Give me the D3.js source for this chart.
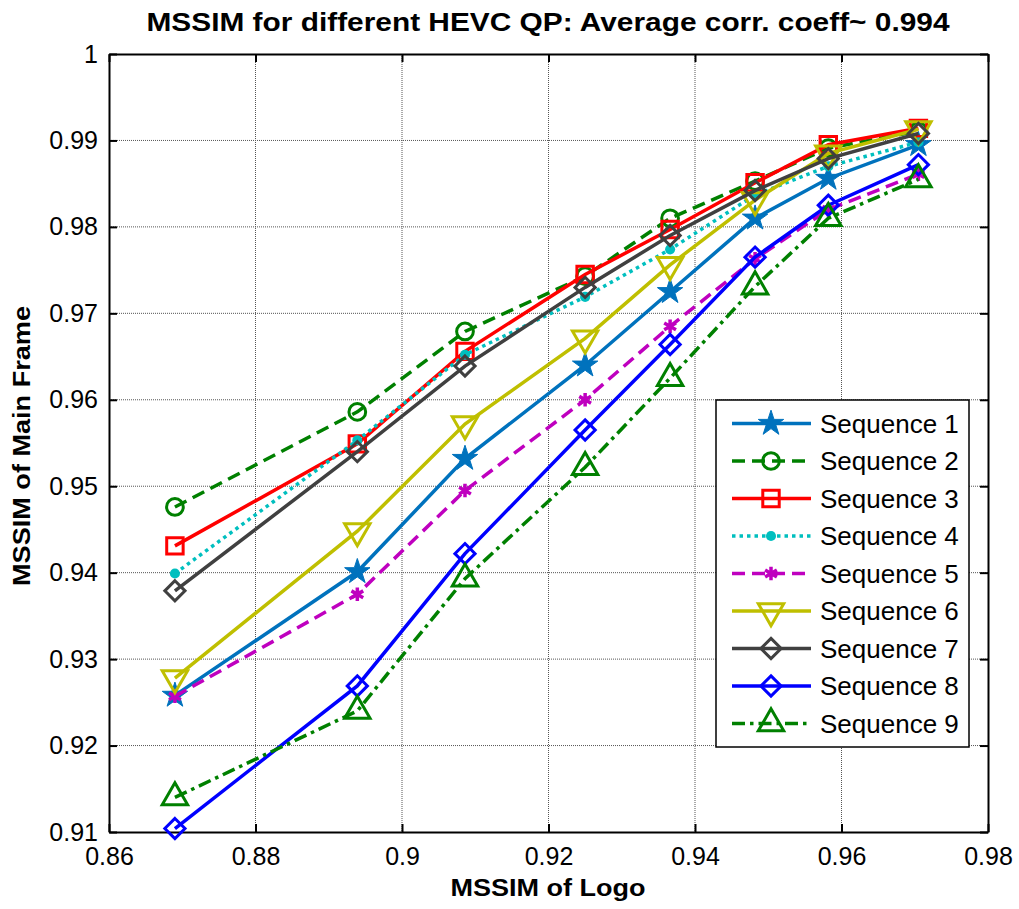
<!DOCTYPE html>
<html>
<head>
<meta charset="utf-8">
<script src="https://cdn.jsdelivr.net/npm/d3@7"></script>
<style>
  body { margin: 0; background: #fff; }
  text { font-family: "Liberation Sans", Arial, sans-serif; }
</style>
</head>
<body>
<div id="chart"></div>
<script>
// x positions (MSSIM of logo), shared by every sequence
const logoX = [0.869, 0.8939, 0.9086, 0.925, 0.9366, 0.9482, 0.9582, 0.9705];

// MSSIM of main frame, one array per sequence
const seq1 = [0.9258, 0.9401, 0.9532, 0.9640, 0.9725, 0.9810, 0.9856, 0.9895];
const seq2 = [0.9476, 0.9586, 0.9679, 0.9743, 0.9810, 0.9853, 0.9891, 0.9911];
const seq3 = [0.9431, 0.9549, 0.9656, 0.9745, 0.9797, 0.9851, 0.9895, 0.9914];
const seq4 = [0.9399, 0.9553, 0.9652, 0.9719, 0.9774, 0.9837, 0.9870, 0.9898];
const seq5 = [0.9257, 0.9375, 0.9495, 0.9600, 0.9685, 0.9763, 0.9820, 0.9861];
const seq6 = [0.9278, 0.9448, 0.9572, 0.9671, 0.9756, 0.9831, 0.9885, 0.9913];
const seq7 = [0.9379, 0.9540, 0.9639, 0.9730, 0.9790, 0.9842, 0.9879, 0.9908];
const seq8 = [0.9104, 0.9269, 0.9422, 0.9565, 0.9664, 0.9765, 0.9825, 0.9872];
const seq9 = [0.9140, 0.9240, 0.9393, 0.9522, 0.9625, 0.9731, 0.9810, 0.9855];

const seriesNames = ["Sequence 1", "Sequence 2", "Sequence 3", "Sequence 4", "Sequence 5",
                     "Sequence 6", "Sequence 7", "Sequence 8", "Sequence 9"];
const seriesValues = [seq1, seq2, seq3, seq4, seq5, seq6, seq7, seq8, seq9];

const xTicks = [0.86, 0.88, 0.9, 0.92, 0.94, 0.96, 0.98];
const yTicks = [0.91, 0.92, 0.93, 0.94, 0.95, 0.96, 0.97, 0.98, 0.99, 1];

// line / marker styles
const styles = [
  {color: "#0072BD", dash: null,        marker: "star"},
  {color: "#008000", dash: "13 7",      marker: "circle"},
  {color: "#FF0000", dash: null,        marker: "square"},
  {color: "#00BFBF", dash: "3.5 4",     marker: "dot"},
  {color: "#BF00BF", dash: "13 7",      marker: "asterisk"},
  {color: "#BFBF00", dash: null,        marker: "triangleDown"},
  {color: "#404040", dash: null,        marker: "diamond"},
  {color: "#0000FF", dash: null,        marker: "diamond"},
  {color: "#008000", dash: "13 5 3.5 5", marker: "triangleUp"}
];

const width = 1019, height = 909;
const margin = {top: 54, right: 31, bottom: 77, left: 109};

const svg = d3.select("#chart")
  .append("svg")
  .attr("width", width)
  .attr("height", height);

const xScale = d3.scaleLinear()
  .domain([0.86, 0.98])
  .range([margin.left, width - margin.right]);

const yScale = d3.scaleLinear()
  .domain([0.91, 1])
  .range([height - margin.bottom, margin.top]);

// grid
svg.append("g")
  .selectAll("line")
  .data(xTicks.slice(1, -1))
  .enter().append("line")
  .attr("x1", d => xScale(d)).attr("x2", d => xScale(d))
  .attr("y1", yScale(1)).attr("y2", yScale(0.91))
  .attr("stroke", "#555").attr("stroke-width", 1)
  .attr("stroke-dasharray", "1 1");

svg.append("g")
  .selectAll("line")
  .data(yTicks.slice(1, -1))
  .enter().append("line")
  .attr("y1", d => yScale(d)).attr("y2", d => yScale(d))
  .attr("x1", xScale(0.86)).attr("x2", xScale(0.98))
  .attr("stroke", "#555").attr("stroke-width", 1)
  .attr("stroke-dasharray", "1 1");

// axes with inward ticks
const fmt = d => d3.format("")(+d.toFixed(2));

const xAxis = svg.append('g')
  .attr('transform', `translate(0,${yScale(0.91)})`)
  .call(d3.axisBottom(xScale).tickValues(xTicks).tickFormat(fmt)
    .tickSizeInner(-8).tickSizeOuter(0).tickPadding(15));

const yAxis = svg.append('g')
  .attr('transform', `translate(${xScale(0.86)},0)`)
  .call(d3.axisLeft(yScale).tickValues(yTicks).tickFormat(fmt)
    .tickSizeInner(-8).tickSizeOuter(0).tickPadding(11));

const topAxis = svg.append('g')
  .attr('transform', `translate(0,${yScale(1)})`)
  .call(d3.axisTop(xScale).tickValues(xTicks).tickFormat("")
    .tickSizeInner(-8).tickSizeOuter(0));

const rightAxis = svg.append('g')
  .attr('transform', `translate(${xScale(0.98)},0)`)
  .call(d3.axisRight(yScale).tickValues(yTicks).tickFormat("")
    .tickSizeInner(-8).tickSizeOuter(0));

[xAxis, yAxis, topAxis, rightAxis].forEach(g => {
  g.select(".domain").attr("stroke", "#000").attr("stroke-width", 2);
  g.selectAll(".tick line").attr("stroke", "#000").attr("stroke-width", 2);
  g.selectAll(".tick text")
    .attr("fill", "#000")
    .style("font-size", "25px")
    .style("font-family", "'Liberation Sans', Arial, sans-serif");
});

// marker drawing
function drawMarker(sel, type, color) {
  let sym, size, fill = "none", rot = 0, sw = 3;
  if (type === "star") { sym = d3.symbolStar; size = 200; fill = color; sw = 1; }
  else if (type === "circle") { sym = d3.symbolCircle; size = 220; }
  else if (type === "square") { sym = d3.symbolSquare; size = 270; }
  else if (type === "dot") { sym = d3.symbolCircle; size = 80; fill = color; sw = 0; }
  else if (type === "asterisk") { sym = d3.symbolAsterisk || d3.symbolCross; size = 130; sw = 3.5; }
  else if (type === "triangleDown") { sym = d3.symbolTriangle; size = 280; rot = 180; }
  else if (type === "triangleUp") { sym = d3.symbolTriangle; size = 280; }
  else if (type === "diamond") { sym = d3.symbolDiamond2 || d3.symbolSquare; size = 260; if (!d3.symbolDiamond2) rot = 45; }
  sel.append("path")
    .attr("d", d3.symbol().type(sym).size(size)())
    .attr("transform", d => `translate(${d[0]},${d[1]}) rotate(${rot})`)
    .attr("fill", fill)
    .attr("stroke", color)
    .attr("stroke-width", sw);
}

const line = d3.line()
  .x(d => xScale(d[0]))
  .y(d => yScale(d[1]));

// series
seriesValues.forEach((vals, i) => {
  const st = styles[i];
  const pts = vals.map((v, j) => [logoX[j], v]);
  svg.append("path")
    .datum(pts)
    .attr("d", line)
    .attr("fill", "none")
    .attr("stroke", st.color)
    .attr("stroke-width", 3.5)
    .attr("stroke-dasharray", st.dash);

  const g = svg.append("g")
    .selectAll("g")
    .data(pts.map(p => [xScale(p[0]), yScale(p[1])]))
    .enter().append("g");
  drawMarker(g, st.marker, st.color);
});

// legend
const legend = svg.append("g");
legend.append("rect")
  .attr("x", 716).attr("y", 400)
  .attr("width", 253).attr("height", 347)
  .attr("fill", "white").attr("stroke", "#000").attr("stroke-width", 1.5);

const rows = legend.selectAll(".legend")
  .data(seriesNames)
  .enter().append("g")
  .attr("class", "legend")
  .attr("transform", (d, i) => "translate(0," + (423.5 + i * 37.5) + ")");

rows.append("line")
  .attr("x1", 732).attr("x2", 811)
  .attr("y1", 0).attr("y2", 0)
  .attr("stroke", (d, i) => styles[i].color)
  .attr("stroke-width", 3.5)
  .attr("stroke-dasharray", (d, i) => styles[i].dash);

rows.each(function(d, i) {
  const g = d3.select(this).selectAll("g.m").data([[771, 0]]).enter().append("g").attr("class", "m");
  drawMarker(g, styles[i].marker, styles[i].color);
});

rows.append("text")
  .attr("x", 820)
  .attr("y", 0)
  .attr("dy", "0.36em")
  .style("font-size", "26px")
  .text(d => d);

// title
svg.append("text")
  .attr("x", 548)
  .attr("y", 31)
  .attr("text-anchor", "middle")
  .attr("textLength", 803)
  .attr("lengthAdjust", "spacingAndGlyphs")
  .style("font-size", "26px")
  .style("font-weight", "bold")
  .text("MSSIM for different HEVC QP: Average corr. coeff~ 0.994");

// x-axis label
svg.append("text")
  .attr("x", 548)
  .attr("y", 896)
  .attr("text-anchor", "middle")
  .attr("textLength", 195)
  .attr("lengthAdjust", "spacingAndGlyphs")
  .style("font-size", "24px")
  .style("font-weight", "bold")
  .text("MSSIM of Logo");

// y-axis label
svg.append("text")
  .attr("transform", "rotate(-90)")
  .attr("x", -446)
  .attr("y", 30)
  .attr("text-anchor", "middle")
  .attr("textLength", 280)
  .attr("lengthAdjust", "spacingAndGlyphs")
  .style("font-size", "24px")
  .style("font-weight", "bold")
  .text("MSSIM of Main Frame");
</script>
</body>
</html>
